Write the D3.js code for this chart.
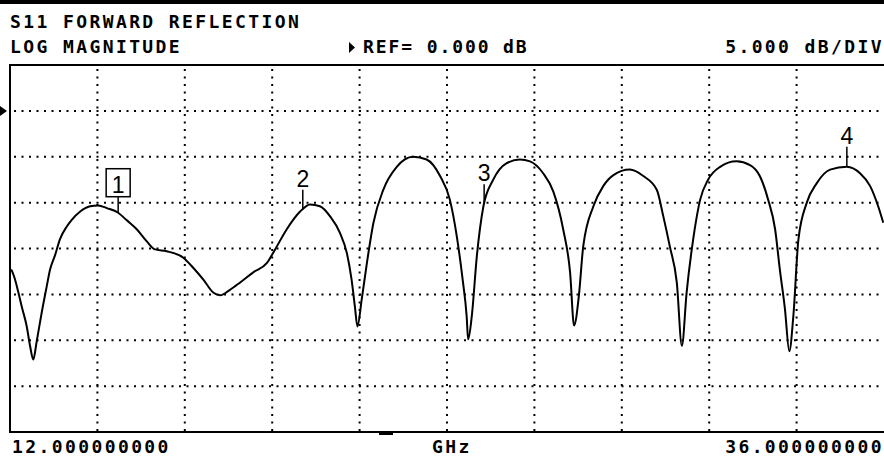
<!DOCTYPE html>
<html>
<head>
<meta charset="utf-8">
<script src="https://cdn.jsdelivr.net/npm/d3@7"></script>
<style>
  body { margin: 0; background: #fff; }
  text { font-family: "DejaVu Sans Mono", monospace; fill: #000; }
</style>
</head>
<body>
<script>
// trace: frequency (GHz) and S11 (dB)
var freq = [12.03, 12.07, 12.14, 12.23, 12.32, 12.46, 12.55, 12.64, 12.73, 12.87,
  13.01, 13.10, 13.24, 13.37, 13.56, 13.69, 13.92, 14.20, 14.42, 14.66,
  14.97, 15.20, 15.48, 15.75, 15.98, 16.30, 16.76, 17.03, 17.31, 17.58,
  17.77, 18.04, 18.32, 18.68, 19.05, 19.28, 19.60, 19.96, 20.24, 20.51,
  20.79, 21.06, 21.25, 21.38, 21.47, 21.54, 21.66, 21.80, 21.98, 22.25,
  22.62, 23.07, 23.44, 23.81, 24.08, 24.27, 24.43, 24.54, 24.58, 24.68,
  24.82, 25.00, 25.27, 25.64, 26.00, 26.28, 26.64, 26.92, 27.19, 27.38,
  27.49, 27.62, 27.74, 28.02, 28.29, 28.57, 29.02, 29.39, 29.76, 29.94,
  30.12, 30.31, 30.45, 30.58, 30.76, 30.95, 31.17, 31.50, 31.95, 32.32,
  32.59, 32.82, 33.01, 33.14, 33.28, 33.40, 33.51, 33.65, 33.88, 34.15,
  34.52, 34.98, 35.34, 35.62, 35.84, 35.98];
var s11 = [-17.3, -17.6, -18.4, -19.8, -21.3, -23.5, -25.6, -27.1, -25.2, -22.0,
  -19.1, -17.3, -15.7, -14.0, -12.6, -11.9, -11.0, -10.4, -10.3, -10.6,
  -11.1, -11.9, -12.9, -14.2, -15.1, -15.3, -16.0, -17.1, -18.4, -19.8,
  -20.1, -19.5, -18.7, -17.6, -16.6, -15.1, -12.9, -11.0, -10.2, -10.4,
  -11.5, -13.3, -15.5, -18.4, -21.3, -23.5, -20.5, -16.6, -12.2, -8.6,
  -6.1, -5.0, -5.3, -7.1, -9.7, -13.7, -18.4, -22.4, -24.9, -22.4,
  -15.8, -10.4, -7.5, -5.7, -5.3, -5.5, -6.8, -8.8, -12.9, -17.6,
  -23.4, -20.2, -14.8, -10.4, -8.2, -7.0, -6.4, -7.1, -8.6, -11.5,
  -14.8, -18.7, -25.6, -19.8, -14.0, -9.7, -7.5, -6.1, -5.5, -5.9,
  -7.1, -9.7, -12.9, -17.3, -21.6, -26.2, -22.4, -14.0, -10.0, -7.9,
  -6.4, -6.1, -6.8, -8.2, -10.4, -12.2];

var markerNames = ["1", "2", "3", "4"];
var markerFreq = [14.97, 20.04, 25.02, 34.98];
var activeMarker = "1";

var startFreq = 12, stopFreq = 36;
var refLevel = 0, dbPerDiv = 5;
var xDivs = 10, yDivs = 8;

var titleLines = ["S11 FORWARD REFLECTION", "LOG MAGNITUDE"];
var refLabel = "REF= 0.000 dB";
var scaleLabel = "5.000 dB/DIV";
var startLabel = "12.000000000";
var unitLabel = "GHz";
var stopLabel = "36.000000000";

var W = 884, H = 460;
var box = {left: 10, right: 884, top: 65, bottom: 432};

var svg = d3.select("body").append("svg")
  .attr("width", W).attr("height", H);

svg.append("rect").attr("width", W).attr("height", H).attr("fill", "#fff");

// ref line is one division below the top
var yMax = refLevel + dbPerDiv;
var yMin = refLevel - (yDivs - 1) * dbPerDiv;

var x = d3.scaleLinear().domain([startFreq, stopFreq]).range([box.left, box.right]);
var y = d3.scaleLinear().domain([yMin, yMax]).range([box.bottom, box.top]);

var xTicks = d3.range(1, xDivs).map(function(i) { return startFreq + i * (stopFreq - startFreq) / xDivs; });
var yTicks = d3.range(1, yDivs).map(function(i) { return yMin + i * dbPerDiv; });

// dotted graticule
var grid = svg.append("g")
  .attr("stroke", "#000").attr("stroke-width", 2).attr("stroke-dasharray", "2 5.5");

grid.selectAll(".vg").data(xTicks).enter().append("line")
  .attr("x1", function(d) { return x(d); }).attr("x2", function(d) { return x(d); })
  .attr("y1", box.top + 4).attr("y2", box.bottom);

grid.selectAll(".hg").data(yTicks).enter().append("line")
  .attr("x1", box.left + 4).attr("x2", box.right)
  .attr("y1", function(d) { return y(d); }).attr("y2", function(d) { return y(d); });

// frame (right side runs off the screen)
svg.append("path")
  .attr("d", "M" + box.right + "," + box.top + "H" + box.left + "V" + box.bottom + "H" + box.right)
  .attr("fill", "none").attr("stroke", "#000").attr("stroke-width", 2);

// heavy bar at top of screen
svg.append("rect").attr("x", 0).attr("y", 0).attr("width", W).attr("height", 4).attr("fill", "#000");

// little stimulus tick under the frame
svg.append("rect").attr("x", 379).attr("y", box.bottom).attr("width", 14).attr("height", 3).attr("fill", "#000");

// reference pointer
svg.append("path")
  .attr("d", "M0," + (y(refLevel) - 5) + "L7," + y(refLevel) + "L0," + (y(refLevel) + 5) + "Z")
  .attr("fill", "#000");

// trace
var pts = freq.map(function(f, i) { return [f, s11[i]]; });
var line = d3.line()
  .x(function(d) { return x(d[0]); })
  .y(function(d) { return y(d[1]); })
  .curve(d3.curveMonotoneX);

svg.append("path").datum(pts)
  .attr("d", line)
  .attr("fill", "none").attr("stroke", "#000").attr("stroke-width", 2)
  .attr("stroke-linejoin", "round");

// markers
function traceAt(f) {
  var i = d3.bisector(function(d) { return d; }).left(freq, f);
  if (i <= 0) return s11[0];
  if (i >= freq.length) return s11[freq.length - 1];
  var t = (f - freq[i - 1]) / (freq[i] - freq[i - 1]);
  return s11[i - 1] + t * (s11[i] - s11[i - 1]);
}

var mk = svg.selectAll(".marker").data(markerNames).enter().append("g")
  .attr("transform", function(d, i) {
    return "translate(" + x(markerFreq[i]) + "," + y(traceAt(markerFreq[i])) + ")";
  });

mk.append("line").attr("x1", 0).attr("x2", 0).attr("y1", 0)
  .attr("y2", function(d) { return d == activeMarker ? -16 : -20; })
  .attr("stroke", "#000").attr("stroke-width", 1.5);

mk.filter(function(d) { return d == activeMarker; }).append("rect")
  .attr("x", -12).attr("y", -44).attr("width", 24).attr("height", 28)
  .attr("fill", "#fff").attr("stroke", "#000").attr("stroke-width", 1.5);

mk.append("text")
  .attr("text-anchor", "middle")
  .attr("y", function(d) { return d == activeMarker ? -20 : -23; })
  .style("font-family", "'Liberation Sans', sans-serif")
  .style("font-size", "23px")
  .text(function(d) { return d; });

// screen annotations
var hdr = svg.append("g").style("font-size", "18px").style("font-weight", "bold")
  .style("letter-spacing", "2.4px");

hdr.selectAll(".title").data(titleLines).enter().append("text")
  .attr("x", 10).attr("y", function(d, i) { return 28 + i * 25; })
  .text(function(d) { return d; });

svg.append("path").attr("d", "M349,42L355,47.5L349,53Z").attr("fill", "#000");
hdr.append("text").attr("x", 363).attr("y", 53).style("letter-spacing", "1.9px").text(refLabel);
hdr.append("text").attr("x", 884).attr("y", 53).attr("text-anchor", "end").text(scaleLabel);

hdr.append("text").attr("x", 12).attr("y", 453).text(startLabel);
hdr.append("text").attr("x", 432).attr("y", 453).text(unitLabel);
hdr.append("text").attr("x", 884).attr("y", 453).attr("text-anchor", "end").text(stopLabel);
</script>
</body>
</html>
